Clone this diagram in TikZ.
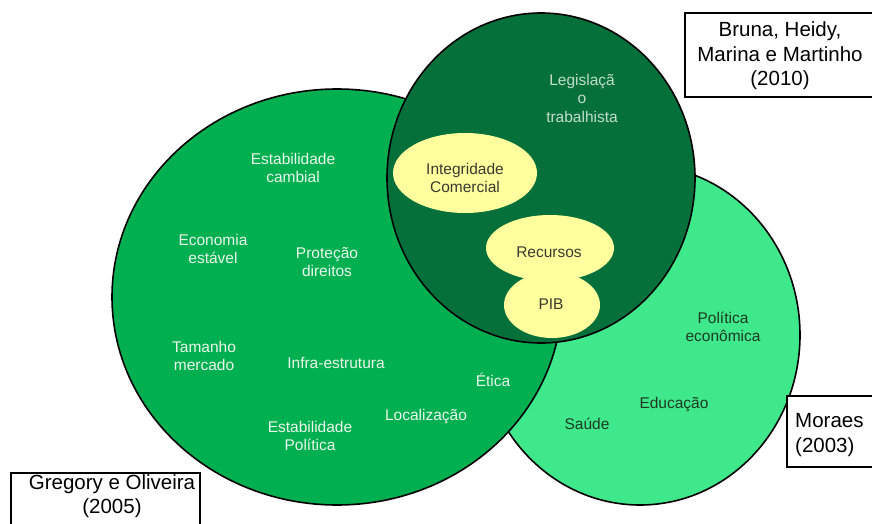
\documentclass[tikz,border=0pt]{standalone}
\usepackage{fontspec}
\setmainfont{Liberation Sans}
\definecolor{gmid}{HTML}{00B050}
\definecolor{gdark}{HTML}{05703A}
\definecolor{glight}{HTML}{40E88C}
\definecolor{yel}{HTML}{FFFF9E}
\definecolor{wtxt}{HTML}{EAF6EC}
\definecolor{ltxt}{HTML}{C2DEC8}
\definecolor{dtxt}{HTML}{1E3A24}
\definecolor{ytxt}{HTML}{3A3A30}
\tikzset{
  circ/.style={draw=black, line width=1.6pt},
  ytag/.style={fill=yel, draw=none},
  wlabel/.style={align=center, text=wtxt, font=\fontsize{15.5}{18.5}\selectfont, inner sep=0pt},
  llabel/.style={align=center, text=ltxt, font=\fontsize{15.5}{18.5}\selectfont, inner sep=0pt},
  dlabel/.style={align=center, text=dtxt, font=\fontsize{15.5}{18.5}\selectfont, inner sep=0pt},
  ylabel/.style={align=center, text=ytxt, font=\fontsize{15.5}{18.5}\selectfont, inner sep=0pt},
  refbox/.style={draw=black, line width=1.6pt, fill=white},
  reftext/.style={text=black, font=\fontsize{20.5}{24.5}\selectfont, inner sep=0pt}
}
\begin{document}
\begin{tikzpicture}[x=1pt, y=-1pt]
\useasboundingbox (0,0) rectangle (872,524);
% Moraes (light)
\draw[circ, fill=glight] (640,335) ellipse [x radius=160, y radius=170];
% Gregory (mid)
\draw[circ, fill=gmid] (337,297) ellipse [x radius=225, y radius=208];
% Bruna (dark)
\draw[circ, fill=gdark] (541,178) ellipse [x radius=154, y radius=165];
% yellow shapes
\begin{scope}
\clip (541,178) ellipse [x radius=153, y radius=164];
\fill[ytag] (465,173) ellipse [x radius=72, y radius=40];
\fill[ytag] (552,305) ellipse [x radius=48, y radius=33];
\fill[ytag] (550,248) ellipse [x radius=64, y radius=33];
\end{scope}
% boxes
\draw[refbox] (685,13) rectangle (880,97);
\draw[refbox] (787,396) rectangle (880,467);
\draw[refbox] (11,473) rectangle (200,530);
\node[reftext, align=center] (bruna) at (780,56) {Bruna, Heidy,\\Marina e Martinho\\(2010)};
\node[reftext, align=left, anchor=west] (moraes) at (795,435) {Moraes\\(2003)};
\node[reftext, align=center] (gregory) at (112,496) {Gregory e Oliveira\\(2005)};
% labels
\node[llabel] (leg) at (582,98) {Legislaçã\\o\\trabalhista};
\node[ylabel] (integ) at (465,178) {Integridade\\Comercial};
\node[ylabel] (rec) at (549,252) {Recursos};
\node[ylabel] (pib) at (551,304) {PIB};
\node[dlabel] (pol) at (723,327) {Política\\econômica};
\node[dlabel] (edu) at (674,405) {Educação};
\node[dlabel] (sau) at (587,424) {Saúde};
\node[wlabel] (etica) at (493,380) {Ética};
\node[wlabel] (loc) at (426,417) {Localização};
\node[wlabel] (ecamb) at (293,168) {Estabilidade\\cambial};
\node[wlabel] (econ) at (213,249) {Economia\\estável};
\node[wlabel] (prot) at (327,262) {Proteção\\direitos};
\node[wlabel] (tam) at (204,356) {Tamanho\\mercado};
\node[wlabel] (infra) at (336,363) {Infra-estrutura};
\node[wlabel] (epol) at (310,436) {Estabilidade\\Política};
\end{tikzpicture}
\end{document}
